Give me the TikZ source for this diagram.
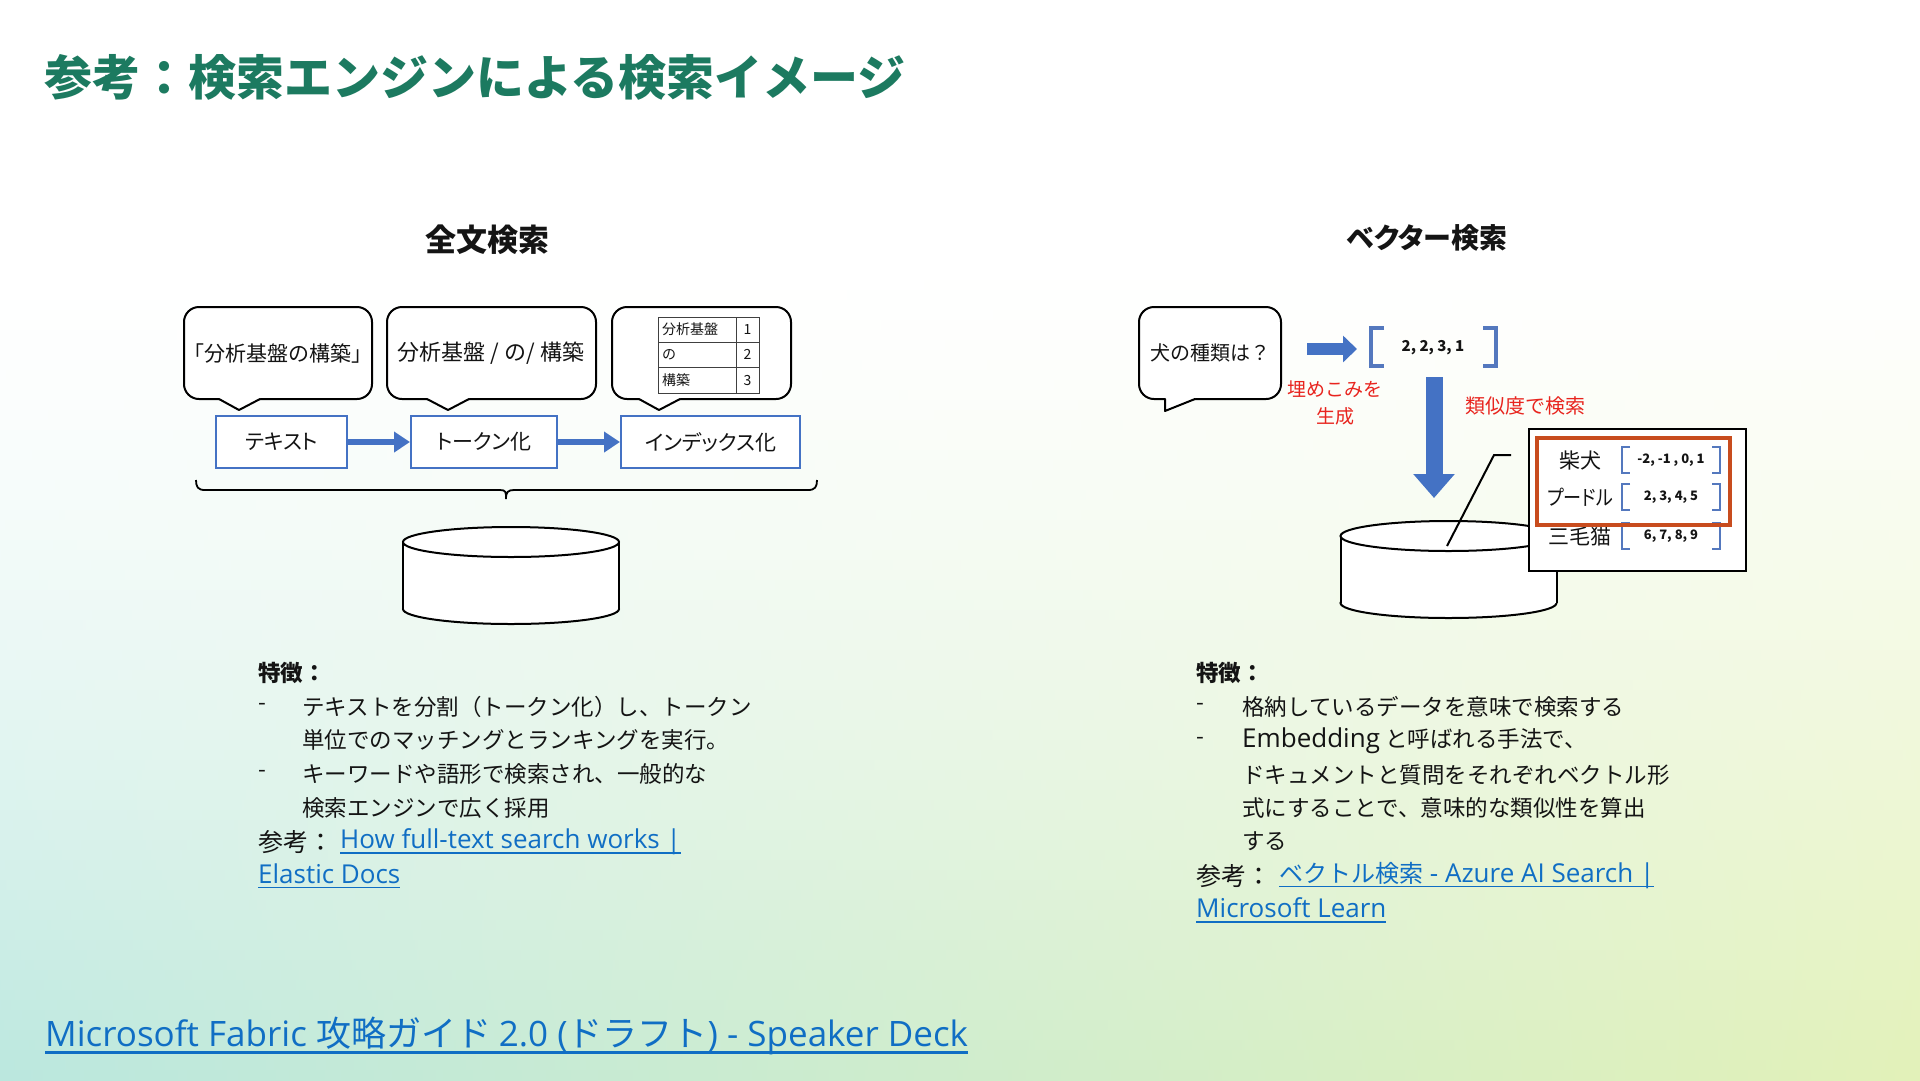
\documentclass[tikz,border=0pt]{standalone}
\usepackage{fontspec}
\setmainfont{Noto Sans CJK JP}
\newfontfamily\lat{Open Sans}
\newfontfamily\jp[RawFeature=+palt]{Noto Sans CJK JP}
\usetikzlibrary{arrows.meta}
\definecolor{titlegreen}{RGB}{28,122,96}
\definecolor{mblue}{RGB}{68,114,196}
\definecolor{vblue}{RGB}{84,120,190}
\definecolor{mred}{RGB}{232,36,30}
\definecolor{morange}{RGB}{200,76,30}
\definecolor{linkblue}{RGB}{16,110,196}
\definecolor{bodytext}{RGB}{20,20,20}
\definecolor{bgL}{RGB}{186,231,222}
\definecolor{bgR}{RGB}{226,241,184}
\newcommand\fs[1]{\fontsize{#1pt}{#1pt}\selectfont}
\newcommand\myul[1]{\setbox0=\hbox{#1}\rlap{\rule[-0.2em]{\wd0}{0.065em}}\box0}
\newcommand\calloutshape[8]{%
  \draw[cshape, fill=white, rounded corners=15pt] (#1,#2) rectangle (#3,#4);
  \fill[white] (#5,#4-2) -- (#5,#4) -- (#6,#7) -- (#8,#4) -- (#8,#4-2) -- cycle;
  \draw[cshape, line join=round, line cap=round] (#5,#4) -- (#6,#7) -- (#8,#4);
}
\newcommand\cylshape[5]{% cx topy boty rx ry
  \fill[white] (#1,#3) ellipse [x radius=#4, y radius=#5];
  \draw[cylline] (#1,#3) ellipse [x radius=#4, y radius=#5];
  \fill[white] (#1-#4,#2) rectangle (#1+#4,#3);
  \draw[cylline] (#1-#4,#2) -- (#1-#4,#3);
  \draw[cylline] (#1+#4,#2) -- (#1+#4,#3);
  \draw[cylline, fill=white] (#1,#2) ellipse [x radius=#4, y radius=#5];
}
\newcommand\vbrack[6]{% xl xr yc h w lw
  \draw[draw=vblue, line width=#6pt] (#1+#5,#3-#4/2) -- (#1,#3-#4/2) -- (#1,#3+#4/2) -- (#1+#5,#3+#4/2);
  \draw[draw=vblue, line width=#6pt] (#2-#5,#3-#4/2) -- (#2,#3-#4/2) -- (#2,#3+#4/2) -- (#2-#5,#3+#4/2);
}
\tikzset{
  cshape/.style={draw=black, line width=2pt},
  cylline/.style={draw=black, line width=2pt},
  bbox/.style={draw=mblue, line width=2pt, fill=white, minimum height=52pt, font=\fs{21}\jp, text=bodytext, inner sep=0pt},
  barrow/.style={draw=mblue, line width=6pt, -{Triangle[length=16pt,width=20pt]}},
  body/.style={anchor=west, font=\fs{22.5}, text=bodytext, inner sep=0pt},
  redlbl/.style={font=\fs{20}, text=mred, inner sep=0pt},
  plain/.style={inner sep=0pt, text=bodytext},
}
\begin{document}
\begin{tikzpicture}[x=1pt,y=-1pt]
\useasboundingbox (0,0) rectangle (1920,1080);
% background: white at the top, tinted gradient towards the bottom
\fill[white] (-10,-10) rectangle (1930,1090);
\foreach \i in {0,...,83}{
  \pgfmathsetmacro{\ty}{260+\i*10}
  \pgfmathsetmacro{\tt}{max(0,min(1,(\ty+5-260)/820))}
  \pgfmathsetmacro{\pl}{100*(\tt)^1.6}
  \pgfmathsetmacro{\pr}{min(100,100*(\tt)^1.25)}
  \shade[left color=bgL!\pl!white, right color=bgR!\pr!white, draw=none] (-10,\ty) rectangle (1930,\ty+10.6);
}

% title
\node[anchor=west, text=titlegreen, font=\fs{48}\bfseries, inner sep=0pt] (title) at (44,77) {参考：検索エンジンによる検索イメージ};

% headings
\node[plain, font=\fs{31}\bfseries] (h1) at (487,240) {全文検索};
\node[plain, font=\fs{28}\bfseries\jp] (h2) at (1427,238) {ベクター検索};

% ---------- left diagram ----------
\calloutshape{184}{307}{372}{399}{219}{239}{410}{260}
\calloutshape{387}{307}{596}{399}{427}{448}{410}{469}
\calloutshape{612}{307}{791}{399}{639}{659}{410}{680}
\node[plain, font=\fs{21}] (c1t) at (278,354) {「分析基盤の構築」};
\node[plain, font=\fs{22}] (c2t) at (491,353) {分析基盤 / の/ 構築};
% table
\draw[draw=black!75, line width=1pt] (658,317) rectangle (759,393);
\draw[draw=black!75, line width=1pt] (658,342) -- (759,342);
\draw[draw=black!75, line width=1pt] (658,367) -- (759,367);
\draw[draw=black!75, line width=1pt] (736,317) -- (736,393);
\node[plain, anchor=west, font=\fs{14}] (t1a) at (662,329.5) {分析基盤};
\node[plain, anchor=west, font=\fs{14}] (t2a) at (662,354.5) {の};
\node[plain, anchor=west, font=\fs{14}] (t3a) at (662,380) {構築};
\node[plain, font=\fs{14}] (t1b) at (747.5,329.5) {1};
\node[plain, font=\fs{14}] (t2b) at (747.5,354.5) {2};
\node[plain, font=\fs{14}] (t3b) at (747.5,380) {3};

\node[bbox, minimum width=131pt] (b1) at (281.5,442) {テキスト};
\node[bbox, minimum width=146pt] (b2) at (484,442) {トークン化};
\node[bbox, minimum width=179pt] (b3) at (710.5,442) {インデックス化};
\draw[barrow] (b1) -- (b2);
\draw[barrow] (b2) -- (b3);

% brace
\draw[line width=1.8pt, draw=black] (196,480) .. controls (196,487) and (198,490) .. (205,490) -- (500,490)
  .. controls (506,490) and (506,492) .. (506,499) .. controls (506,492) and (508,490) .. (514,490)
  -- (808,490) .. controls (815,490) and (817,487) .. (817,480);

\cylshape{511}{542}{609}{108}{15}

% left text
\node[body, font=\fs{22.5}\bfseries] (l0) at (258,673) {特徴：};
\node[body] (l1d) at (258,707) {-};
\node[body] (l1) at (302,707) {テキストを分割（トークン化）し、トークン};
\node[body] (l2) at (302,740) {単位でのマッチングとランキングを実行。};
\node[body] (l3d) at (258,774) {-};
\node[body] (l3) at (302,774) {キーワードや語形で検索され、一般的な};
\node[body] (l4) at (302,808) {検索エンジンで広く採用};
\node[body, font=\fs{25}] (l5) at (258,842) {参考：};
\node[body, font=\fs{26}\lat, text=linkblue] (l5k) at (340,842) {\myul{How full-text search works |}};
\node[body, font=\fs{26}\lat, text=linkblue] (l6) at (258,876) {\myul{Elastic Docs}};

% ---------- right diagram ----------
\calloutshape{1139}{307}{1281}{399}{1165}{1165}{411}{1195}
\node[plain, font=\fs{20}] (q) at (1210,353) {犬の種類は？};

\coordinate (ra1) at (1307,349);
\coordinate (ra2) at (1357,349);
\draw[draw=mblue, line width=12pt, -{Triangle[length=14pt,width=26pt]}] (ra1) -- (ra2);

\vbrack{1371}{1496}{347}{38}{13}{3.5}
\node[plain, font=\fs{15}\bfseries] (qv) at (1433,348) {2, 2, 3, 1};

\node[redlbl, font=\fs{19}] (e1) at (1335,389) {埋めこみを};
\node[redlbl, font=\fs{19}] (e2) at (1335,416) {生成};

\coordinate (da1) at (1434,377);
\coordinate (da2) at (1434,498);
\draw[draw=mblue, line width=17pt, -{Triangle[length=24pt,width=40pt]}] (da1) -- (da2);
\node[redlbl] (sim) at (1525,406) {類似度で検索};

\cylshape{1448.5}{536}{603}{108}{15}
\coordinate (dbp) at (1447,546);
\coordinate (dbk) at (1494,455);
\coordinate (dbe) at (1511,455);
\draw[line width=2pt] (dbp) -- (dbk) -- (dbe);

\node[draw=black, line width=2pt, fill=white, minimum width=217pt, minimum height=142pt, inner sep=0pt] (vbox) at (1637.5,500) {};
\node[plain, font=\fs{21}\jp] (k1) at (1580,460) {柴犬};
\node[plain, font=\fs{21}\jp] (k2) at (1580,497) {\scalebox{0.86}[1]{プードル}};
\node[plain, font=\fs{21}\jp] (k3) at (1580,536) {三毛猫};
\vbrack{1622}{1720}{460}{26}{8}{2.2}
\vbrack{1622}{1720}{497}{26}{8}{2.2}
\vbrack{1622}{1720}{536}{26}{8}{2.2}
\node[plain, font=\fs{13}\bfseries] (v1) at (1671,460) {-2, -1 , 0, 1};
\node[plain, font=\fs{13}\bfseries] (v2) at (1671,497) {2, 3, 4, 5};
\node[plain, font=\fs{13}\bfseries] (v3) at (1671,536) {6, 7, 8, 9};
\draw[draw=morange, line width=3.5pt] (1537,438) rectangle (1730,525);

% right text
\node[body, font=\fs{22.5}\bfseries] (r0) at (1196,673) {特徴：};
\node[body] (r1d) at (1196,707) {-};
\node[body] (r1) at (1242,707) {格納しているデータを意味で検索する};
\node[body] (r2d) at (1196,741) {-};
\node[body] (r2) at (1242,741) {{\fs{26}\lat Embedding} と呼ばれる手法で、};
\node[body] (r3) at (1242,775) {ドキュメントと質問をそれぞれベクトル形};
\node[body] (r4) at (1242,808) {式にすることで、意味的な類似性を算出};
\node[body] (r5) at (1242,841) {する};
\node[body, font=\fs{25}] (r6) at (1196,876) {参考：};
\node[body, text=linkblue] (r6k) at (1279,876) {\myul{\fs{24}ベクトル検索{\fs{26}\lat\ - Azure AI Search |}}};
\node[body, font=\fs{26}\lat, text=linkblue] (r7) at (1196,910) {\myul{Microsoft Learn}};

% footer link
\node[anchor=west, inner sep=0pt, font=\fs{35}, text=linkblue] (foot) at (45,1036) {\myul{{\lat Microsoft Fabric }攻略ガイド {\lat 2.0 (}ドラフト{\lat ) - Speaker Deck}}};
\end{tikzpicture}
\end{document}
